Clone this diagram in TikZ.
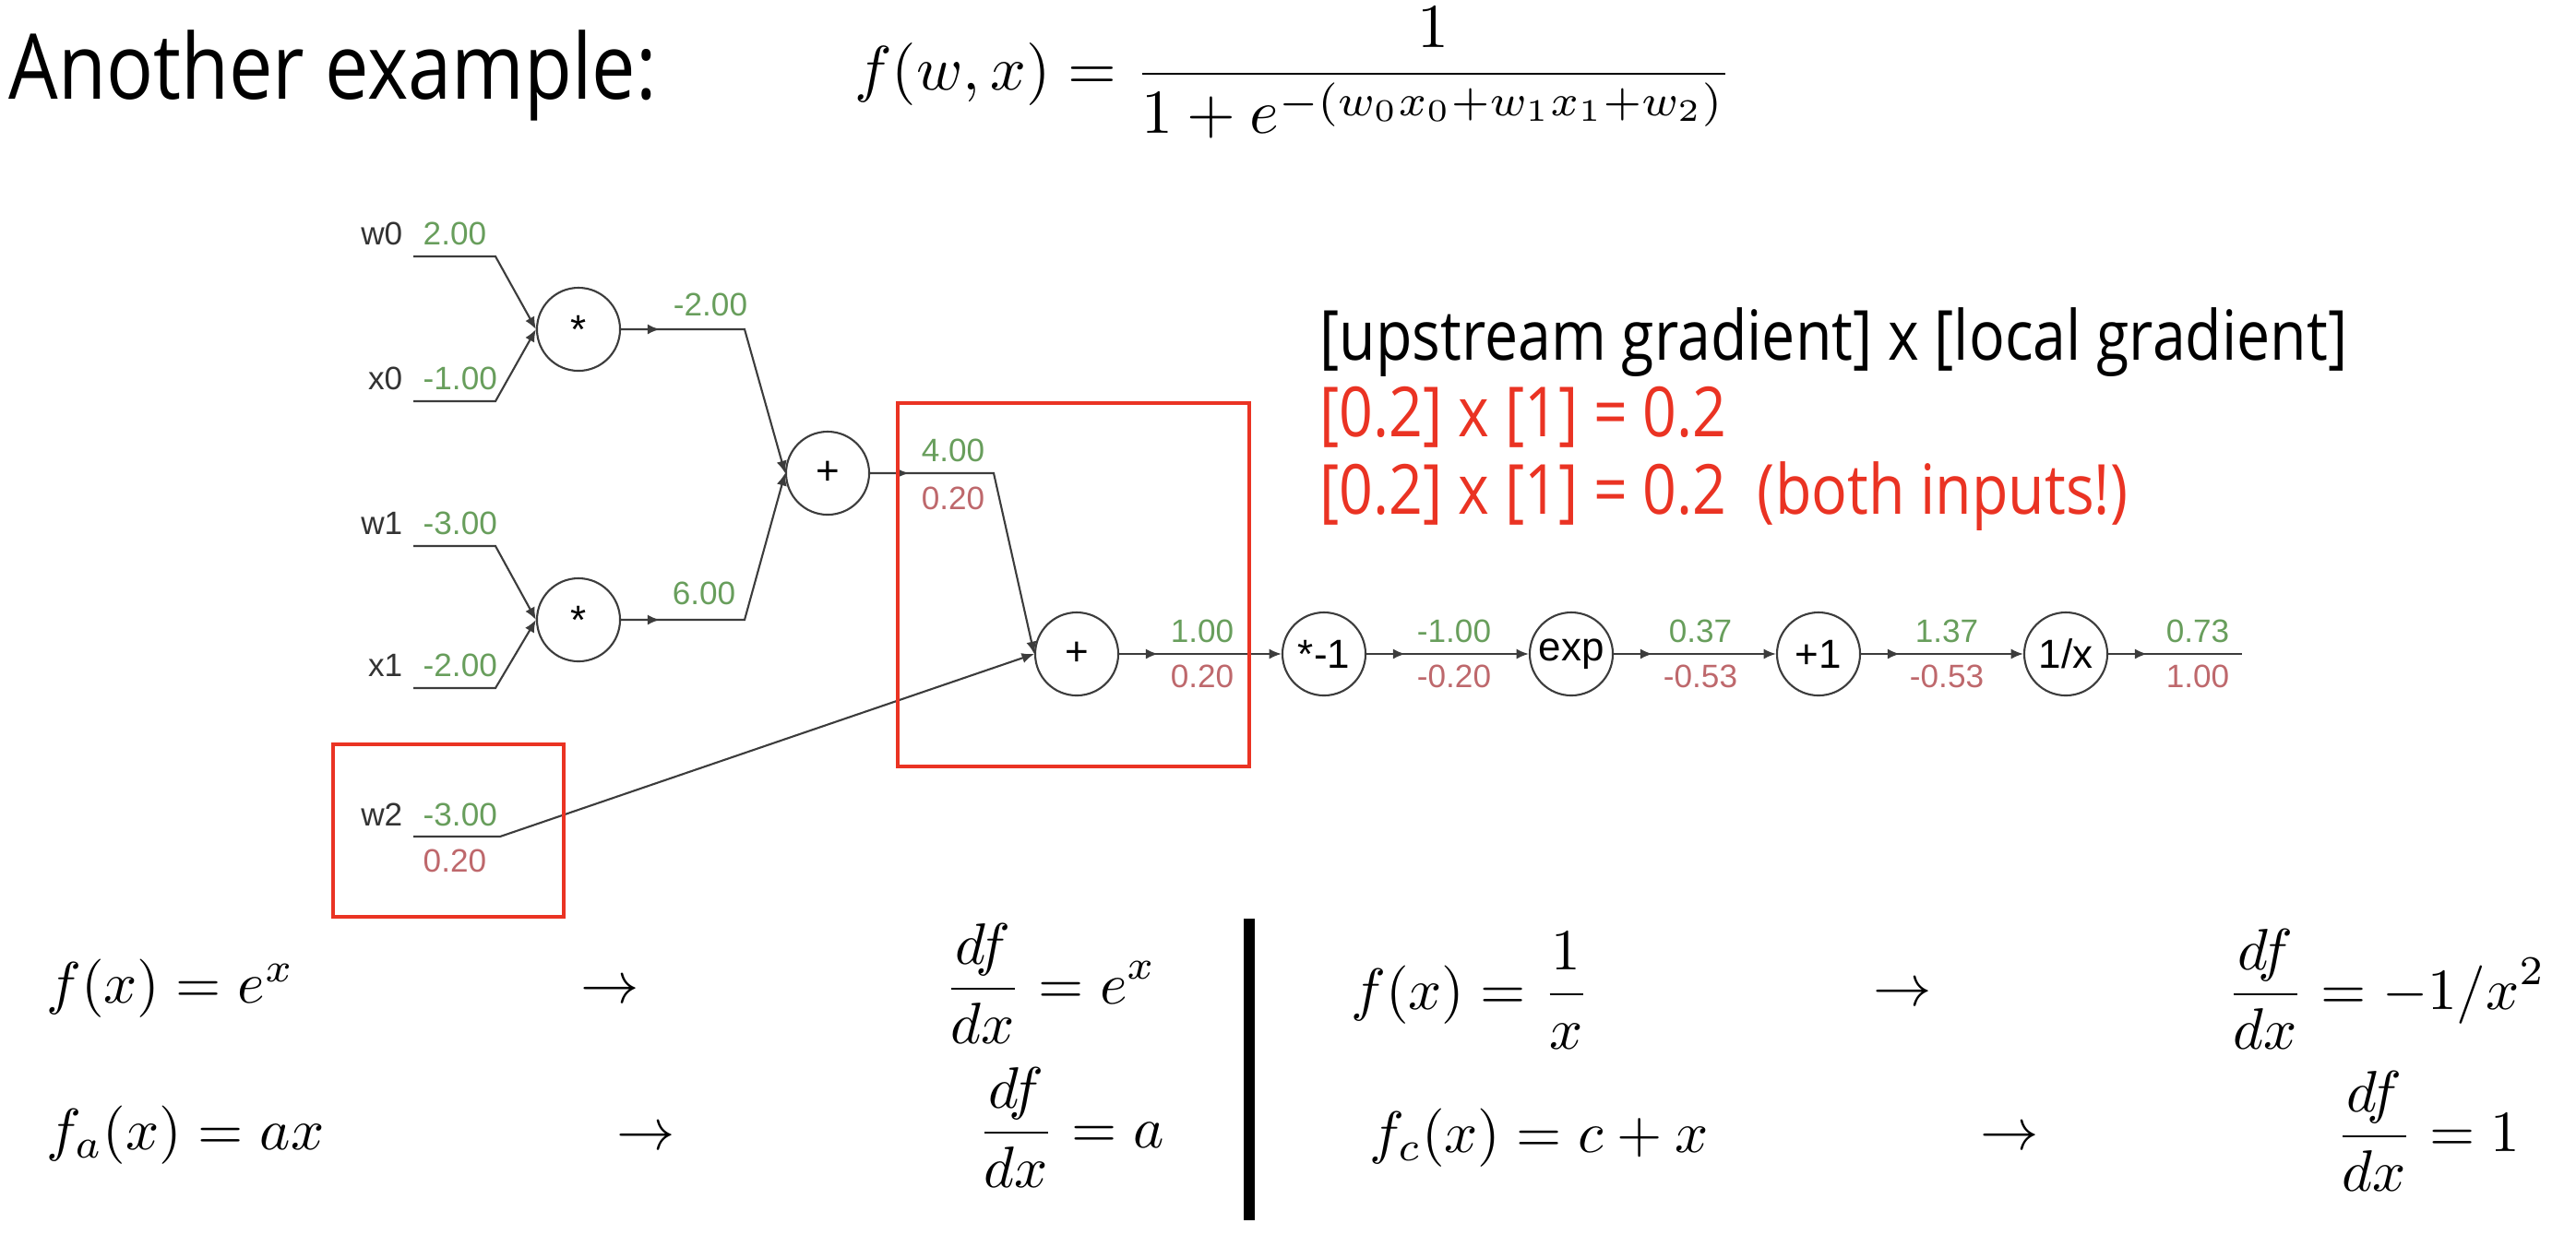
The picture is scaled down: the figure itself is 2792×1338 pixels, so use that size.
\documentclass[tikz,border=0pt]{standalone}
\usepackage{fontspec}
\usetikzlibrary{arrows.meta,decorations.markings}
\newfontfamily\titlefont[FakeStretch=0.86]{Open Sans}
\newfontfamily\graphfont{Liberation Sans}
\definecolor{gval}{RGB}{104,158,92}
\definecolor{rval}{RGB}{190,104,108}
\definecolor{boxred}{RGB}{234,51,35}
\definecolor{lin}{RGB}{60,60,60}
\tikzset{
  op/.style={circle, draw=lin, line width=0.6pt, minimum size=0.9cm, inner sep=0pt, font=\graphfont\fontsize{12.5}{14}\selectfont},
  varname/.style={anchor=east, text=black!80, font=\graphfont\fontsize{10}{12}\selectfont, inner sep=0pt},
  gv/.style={text=gval, font=\graphfont\fontsize{10}{12}\selectfont, inner sep=0pt},
  rv/.style={text=rval, font=\graphfont\fontsize{10}{12}\selectfont, inner sep=0pt},
  edge/.style={draw=lin, line width=0.6pt},
  tipend/.style={-{Latex[length=3.8pt,width=3.2pt]}},
  midtip/.style={postaction={decorate}, decoration={markings, mark=at position 0.42cm with {\arrow{Latex[length=3.8pt,width=3.2pt]}}}},
  hbox/.style={draw=boxred, line width=1.3pt},
  note/.style={anchor=base west, font=\titlefont\fontsize{21.3}{25}\selectfont, inner sep=0pt},
  fml/.style={anchor=base west, inner sep=0pt, scale=1.8},
  arr/.style={anchor=base, inner sep=0pt, scale=1.8},
}
\begin{document}
\begin{tikzpicture}[x=0.01cm,y=-0.01cm]
\useasboundingbox (0,0) rectangle (2792,1338);
% title and formula
\node[anchor=base west, font=\titlefont\fontsize{28}{34}\selectfont, inner sep=0pt] (title) at (9,107) {Another example:};
\node[anchor=base west, inner sep=0pt, scale=1.93] (formula) at (925,97) {$\displaystyle f(w,x)=\frac{1}{1+e^{-(w_0x_0+w_1x_1+w_2)}}$};
% operation nodes
\node[op] (m0) at (627,357) {*};
\node[op] (m1) at (627,672) {*};
\node[op] (p2) at (897,513) {+};
\node[op] (p4) at (1167,709) {+};
\node[op] (neg) at (1435,709) {*-1};
\node[op] (ex) at (1703,709) {exp};
\node[op] (p1) at (1971,709) {+1};
\node[op] (inv) at (2239,709) {1/x};
% inputs
\node[varname] (w0t) at (437,253) {w0};
\node[varname] (x0t) at (437,410) {x0};
\node[varname] (w1t) at (437,567) {w1};
\node[varname] (x1t) at (437,721) {x1};
\node[varname] (w2t) at (437,883) {w2};
\node[gv, anchor=west] (w0v) at (458,253) {2.00};
\node[gv, anchor=west] (x0v) at (458,410) {-1.00};
\node[gv, anchor=west] (w1v) at (458,567) {-3.00};
\node[gv, anchor=west] (x1v) at (458,721) {-2.00};
\node[gv, anchor=west] (w2v) at (458,883) {-3.00};
\node[rv, anchor=west] (w2g) at (458,933) {0.20};
\coordinate (w0a) at (448,278); \coordinate (w0b) at (537,278);
\coordinate (x0a) at (448,435); \coordinate (x0b) at (537,435);
\coordinate (w1a) at (448,592); \coordinate (w1b) at (537,592);
\coordinate (x1a) at (448,746); \coordinate (x1b) at (537,746);
\coordinate (w2a) at (448,907); \coordinate (w2b) at (542,907);
\coordinate (m0b) at (807,357);
\coordinate (m1b) at (807,672);
\coordinate (p2b) at (1077,513);
\coordinate (outend) at (2430,709);
% edges
\draw[edge, tipend] (w0a) -- (w0b) -- (m0.west);
\draw[edge, tipend] (x0a) -- (x0b) -- (m0.west);
\draw[edge, tipend] (w1a) -- (w1b) -- (m1.west);
\draw[edge, tipend] (x1a) -- (x1b) -- (m1.west);
\draw[edge, tipend, midtip] (m0.east) -- (m0b) -- (p2.west);
\draw[edge, tipend, midtip] (m1.east) -- (m1b) -- (p2.west);
\draw[edge, tipend, midtip] (p2.east) -- (p2b) -- (p4.west);
\draw[edge, tipend] (w2a) -- (w2b) -- (p4.west);
\draw[edge, tipend, midtip] (p4.east) -- (neg.west);
\draw[edge, tipend, midtip] (neg.east) -- (ex.west);
\draw[edge, tipend, midtip] (ex.east) -- (p1.west);
\draw[edge, tipend, midtip] (p1.east) -- (inv.west);
\draw[edge, midtip] (inv.east) -- (outend);
% edge values
\node[gv] (m0v) at (770,330) {-2.00};
\node[gv] (m1v) at (763,643) {6.00};
\node[gv] (p2v) at (1033,488) {4.00};
\node[rv] (p2g) at (1033,540) {0.20};
\node[gv] (p4v) at (1303,684) {1.00};
\node[rv] (p4g) at (1303,733) {0.20};
\node[gv] (negv) at (1576,684) {-1.00};
\node[rv] (negg) at (1576,733) {-0.20};
\node[gv] (exv) at (1843,684) {0.37};
\node[rv] (exg) at (1843,733) {-0.53};
\node[gv] (p1v) at (2110,684) {1.37};
\node[rv] (p1g) at (2110,733) {-0.53};
\node[gv] (invv) at (2382,684) {0.73};
\node[rv] (invg) at (2382,733) {1.00};
% highlight boxes
\draw[hbox] (973,437) rectangle (1354,831);
\draw[hbox] (361,807) rectangle (611,994);
% annotation
\node[note] (n1) at (1430,390) {[upstream gradient] x [local gradient]};
\node[note, text=boxred] (n2) at (1430,473) {[0.2] x [1] = 0.2};
\node[note, text=boxred] (n3) at (1430,557) {[0.2] x [1] = 0.2\ \ (both inputs!)};
% derivative table
\node[fml] (e1) at (49,1087) {$f(x)=e^x$};
\node[arr] (a1) at (661,1087) {$\rightarrow$};
\node[fml] (e1d) at (1022,1088) {$\displaystyle\frac{df}{dx}=e^x$};
\node[fml] (r1) at (1463,1094) {$\displaystyle f(x)=\frac{1}{x}$};
\node[arr] (a2) at (2062,1090) {$\rightarrow$};
\node[fml] (r1d) at (2412,1094) {$\displaystyle\frac{df}{dx}=-1/x^2$};
\node[fml] (e2) at (49,1246) {$f_a(x)=ax$};
\node[arr] (a3) at (700,1246) {$\rightarrow$};
\node[fml] (e2d) at (1058,1244) {$\displaystyle\frac{df}{dx}=a$};
\node[fml] (r2) at (1483,1249) {$f_c(x)=c+x$};
\node[arr] (a4) at (2178,1246) {$\rightarrow$};
\node[fml] (r2d) at (2530,1248) {$\displaystyle\frac{df}{dx}=1$};
\draw[line width=3.4pt] (1354,996) -- (1354,1323);
\end{tikzpicture}
\end{document}
